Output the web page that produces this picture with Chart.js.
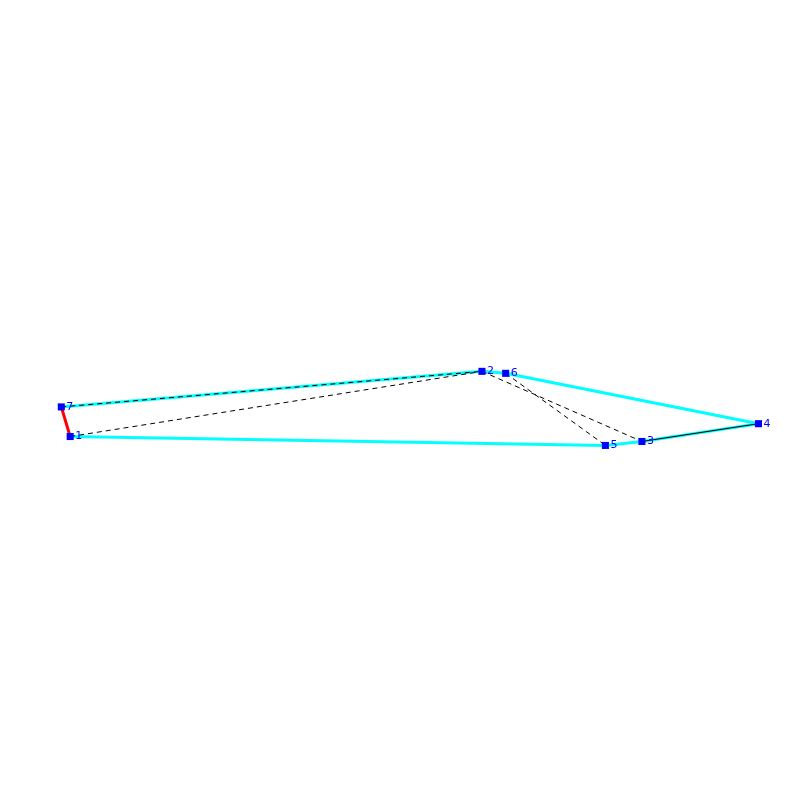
<!DOCTYPE html>
<html>
<head>
<meta charset="utf-8">
<style>
html, body { margin: 0; padding: 0; background: #fff; }
canvas { display: block; }
</style>
<script src="https://cdn.jsdelivr.net/npm/chart.js@4/dist/chart.umd.min.js"></script>
</head>
<body>
<canvas id="chart" width="800" height="800"></canvas>
<script>
const nodeLabels = ["1", "2", "3", "4", "5", "6", "7"];
const nodeX = [66, 483, 645, 763, 608, 507, 57];
const nodeY = [437, 371, 442, 424, 446, 373, 407];

// edges are pairs of node numbers
const cyanEdges = [[1, 5], [5, 3], [3, 4], [4, 6], [6, 2], [2, 7]];
const redEdges = [[7, 1]];
const dashedEdges = [[1, 2], [7, 2], [2, 3], [6, 5]];
const solidEdges = [[3, 4]];

function edgeDataset(edge, color, width, dash, order) {
    return {
        data: edge.map(n => ({ x: nodeX[n - 1], y: nodeY[n - 1] })),
        showLine: true,
        borderColor: color,
        borderWidth: width,
        borderDash: dash,
        pointRadius: 0,
        order: order
    };
}

const nodeNames = {
    id: 'nodeNames',
    afterDatasetsDraw(chart) {
        const ctx = chart.ctx;
        ctx.save();
        ctx.fillStyle = '#0000ff';
        ctx.font = '11px "DejaVu Sans"';
        ctx.textBaseline = 'middle';
        nodeLabels.forEach((label, i) => {
            ctx.fillText(label, chart.scales.x.getPixelForValue(nodeX[i]) + 5, chart.scales.y.getPixelForValue(nodeY[i]));
        });
        ctx.restore();
    }
};

const datasets = [
    ...cyanEdges.map(e => edgeDataset(e, '#00ffff', 3, [], 5)),
    ...redEdges.map(e => edgeDataset(e, '#ff0000', 3, [], 4)),
    ...dashedEdges.map(e => edgeDataset(e, '#000000', 1, [5, 4], 3)),
    ...solidEdges.map(e => edgeDataset(e, '#000000', 1, [], 2)),
    {
        data: nodeX.map((x, i) => ({ x: x, y: nodeY[i] })),
        showLine: false,
        pointStyle: 'rect',
        pointRadius: 5,
        pointBackgroundColor: '#0000ff',
        pointBorderWidth: 0,
        order: 1
    }
];

new Chart(document.getElementById('chart'), {
    type: 'scatter',
    data: { datasets: datasets },
    options: {
        responsive: false,
        animation: false,
        devicePixelRatio: 1,
        layout: { padding: 0 },
        plugins: { legend: { display: false }, tooltip: { enabled: false } },
        scales: {
            x: { type: 'linear', min: 0, max: 800, display: false },
            y: { type: 'linear', min: 0, max: 800, reverse: true, display: false }
        }
    },
    plugins: [nodeNames]
});
</script>
</body>
</html>
